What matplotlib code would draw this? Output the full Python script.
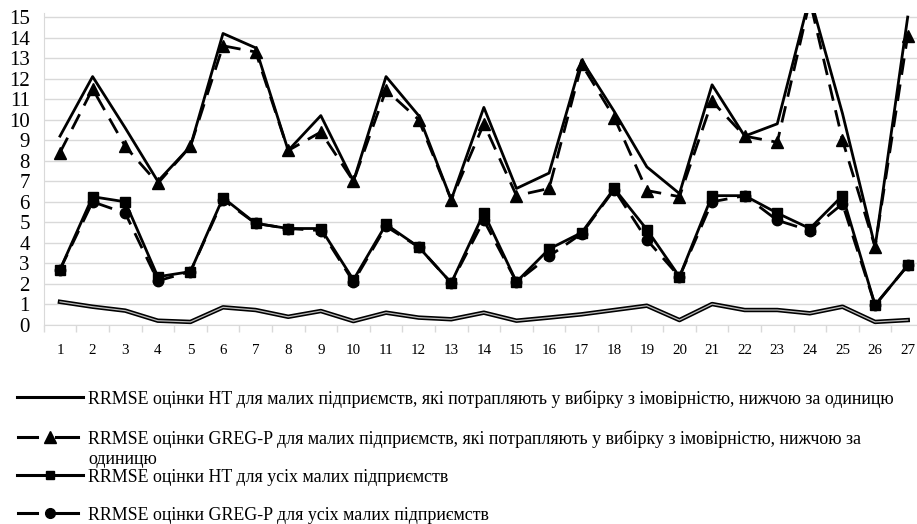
import matplotlib
matplotlib.use("Agg")
import matplotlib.pyplot as plt
from matplotlib.lines import Line2D
from matplotlib.ticker import FixedLocator

plt.rcParams['font.family'] = ['Liberation Serif', 'DejaVu Serif']

categories = list(range(1, 28))
ht_selected = [9.2, 12.1, 9.6, 7.0, 8.7, 14.2, 13.5, 8.5, 10.2, 7.0, 12.1, 10.2, 6.1, 10.6,
               6.65, 7.4, 12.9, 10.4, 7.7, 6.4, 11.7, 9.2, 9.8, 16.0, 10.3, 3.8, 15.0]
greg_selected = [8.4, 11.5, 8.7, 6.9, 8.7, 13.6, 13.3, 8.5, 9.4, 7.0, 11.45, 10.0, 6.1, 9.8,
                 6.3, 6.65, 12.7, 10.1, 6.55, 6.25, 10.9, 9.2, 8.9, 15.8, 9.0, 3.8, 14.1]
ht_all = [2.7, 6.25, 6.0, 2.35, 2.6, 6.2, 4.95, 4.7, 4.7, 2.2, 4.9, 3.8, 2.05, 5.45,
          2.1, 3.7, 4.5, 6.65, 4.65, 2.35, 6.3, 6.3, 5.45, 4.7, 6.3, 0.97, 2.9]
greg_all = [2.7, 6.0, 5.45, 2.15, 2.6, 6.1, 4.95, 4.7, 4.6, 2.1, 4.8, 3.8, 2.05, 5.1,
            2.1, 3.35, 4.45, 6.6, 4.15, 2.35, 6.0, 6.3, 5.1, 4.6, 5.9, 0.97, 2.9]
bottom_series = [1.13, 0.89, 0.7, 0.21, 0.15, 0.86, 0.73, 0.4, 0.68, 0.19, 0.6, 0.36, 0.28, 0.6,
                 0.21, 0.36, 0.52, 0.73, 0.94, 0.24, 1.02, 0.73, 0.73, 0.57, 0.89, 0.15, 0.24]

labels = [
    "RRMSE оцінки HT для малих підприємств, які потрапляють у вибірку з імовірністю, нижчою за одиницю",
    "RRMSE оцінки GREG-P для малих підприємств, які потрапляють у вибірку з імовірністю, нижчою за",
    "RRMSE оцінки HT для усіх малих підприємств",
    "RRMSE оцінки GREG-P для усіх малих підприємств",
]
label_continuation = "одиницю"

W, H = 917, 524
fig = plt.figure(figsize=(W / 100, H / 100), dpi=100)

def fx(px):
    return px / W

def fy(py):
    return 1 - py / H

ax_left, ax_right = 43.7, 924.0
ax_bottom, ax_top = 325.0, 325.0 - 15.2 * 20.53
ax = fig.add_axes([fx(ax_left), fy(ax_bottom), fx(ax_right - ax_left), (ax_bottom - ax_top) / H])

ax.set_xlim(0.5, 27.5)
ax.set_ylim(0, 15.2)

ax.yaxis.set_major_locator(FixedLocator(list(range(0, 16))))
ax.grid(axis='y', color='#d9d9d9', lw=1.0, zorder=0)
ax.set_axisbelow(True)

for s in ['top', 'right']:
    ax.spines[s].set_visible(False)
ax.spines['left'].set_color('#d9d9d9')
ax.spines['bottom'].set_color('#d9d9d9')

ax.set_xticks(categories)
ax.set_xticklabels([str(c) for c in categories])
ax.xaxis.set_minor_locator(FixedLocator([c + 0.5 for c in categories[:-1]] + [0.5]))
ax.tick_params(axis='x', which='major', length=0, pad=14, labelsize=10.8)
ax.tick_params(axis='x', which='minor', length=5, color='#d9d9d9', width=1)
ax.tick_params(axis='y', which='major', length=0, pad=10, labelsize=15)

lw = 2.0
ax.plot(categories, bottom_series, color='black', lw=3.2, zorder=3)
ax.plot(categories, bottom_series, color='#bbbbbb', lw=0.9, zorder=3.1)

ax.plot(categories, ht_all, color='black', lw=lw, marker='s', ms=7, zorder=4)
ax.plot(categories, greg_all, color='black', lw=lw, ls=(0, (6, 3.5)), marker='o', ms=7.5, zorder=4)
ax.plot(categories, ht_selected, color='black', lw=lw, zorder=5)
ax.plot(categories, greg_selected, color='black', lw=lw, ls=(0, (6, 3.5)), marker='^', ms=9, zorder=5)

# manual legend
rows_y = [397, 437, 475, 513]
styles = [
    dict(ls='-', marker=None),
    dict(ls=(0, (6, 3.5)), marker='^', ms=8),
    dict(ls='-', marker='s', ms=6),
    dict(ls=(0, (6, 3.5)), marker='o', ms=7),
]
fs = 12.9
for y, st, lab in zip(rows_y, styles, labels):
    ms = st.get('ms', 0)
    if st['ls'] == '-':
        fig.add_artist(Line2D([fx(17), fx(83)], [fy(y), fy(y)], color='black', lw=2.2,
                              transform=fig.transFigure))
    else:
        fig.add_artist(Line2D([fx(18), fx(37)], [fy(y), fy(y)], color='black', lw=2.2,
                              transform=fig.transFigure))
        fig.add_artist(Line2D([fx(56), fx(78)], [fy(y), fy(y)], color='black', lw=2.2,
                              transform=fig.transFigure))
    if st['marker']:
        fig.add_artist(Line2D([fx(50)], [fy(y)], color='black', marker=st['marker'], ms=ms,
                              ls='none', transform=fig.transFigure))
    fig.text(fx(88), fy(y), lab, fontsize=fs, ha='left', va='center_baseline')

fig.text(fx(88), fy(458), label_continuation, fontsize=fs, ha='left', va='center_baseline')

fig.savefig("out.png", dpi=100)
